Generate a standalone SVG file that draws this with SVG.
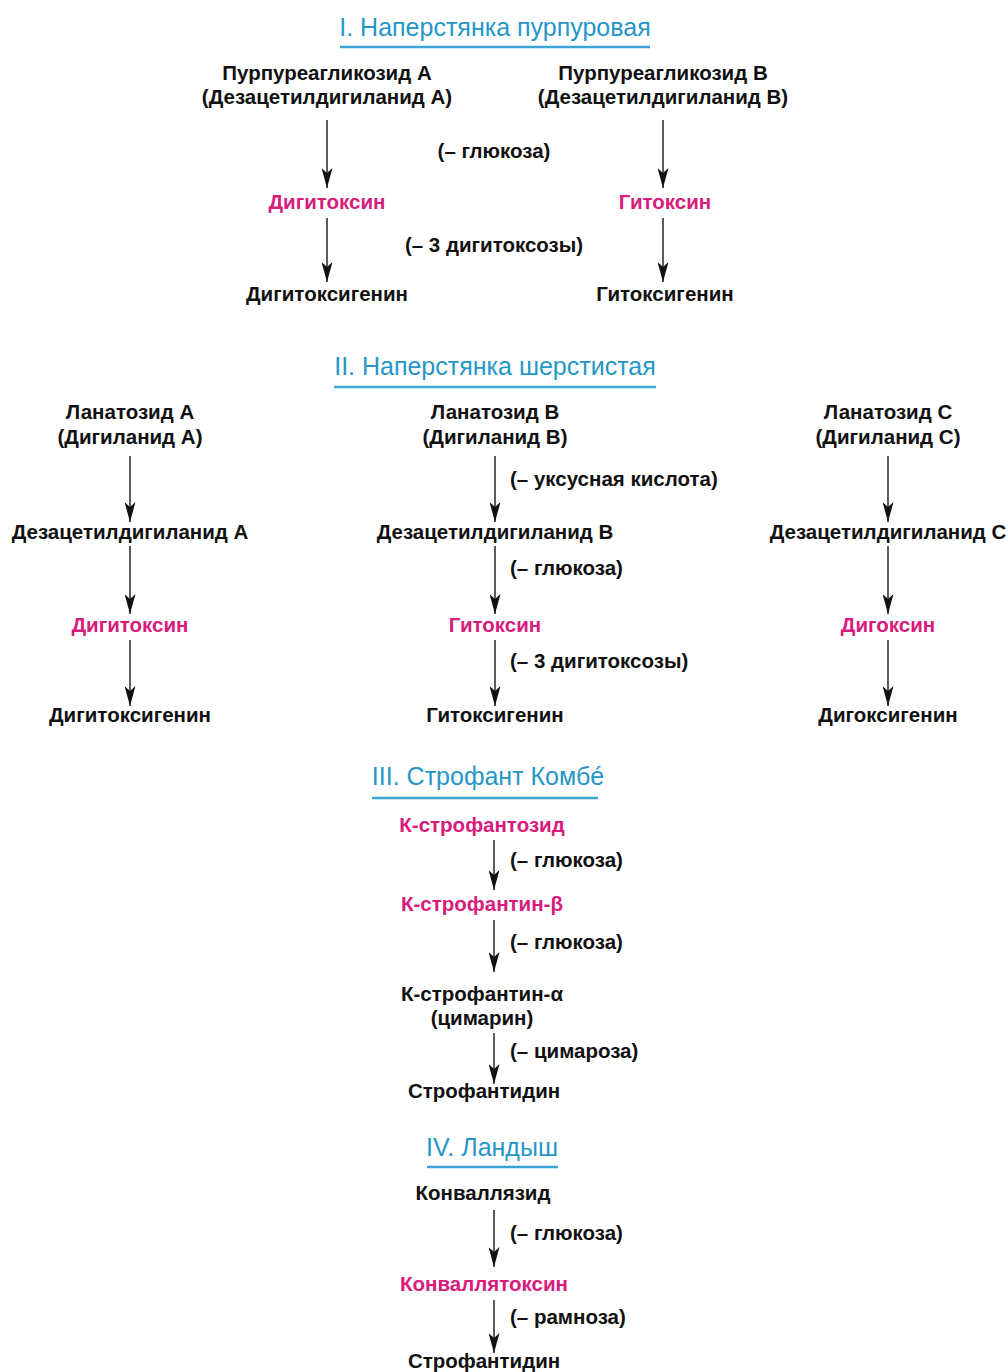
<svg xmlns="http://www.w3.org/2000/svg" width="1008" height="1372" viewBox="0 0 1008 1372">
<defs>
<style>
text{font-family:"Liberation Sans","DejaVu Sans",sans-serif;font-size:20.5px;fill:#111;}
.n{text-anchor:middle;font-weight:bold;}
.m{text-anchor:middle;font-weight:bold;fill:#d81b7c;}
.l{font-weight:bold;}
.lc{text-anchor:middle;font-weight:bold;}
.t{text-anchor:middle;font-size:25px;fill:#2596c8;}
.u{stroke:#3aa6d4;stroke-width:2.5;}
.a{stroke:#333;stroke-width:1.6;fill:none;marker-end:url(#ah);}
</style>
<marker id="ah" viewBox="0 0 20 11" refX="20" refY="5.5" markerWidth="20" markerHeight="11" markerUnits="userSpaceOnUse" orient="auto">
<path d="M0,0 L20,5.5 L0,11 L5,5.5 z" fill="#111"/>
</marker>
</defs>
<rect width="1008" height="1372" fill="#fff"/>

<g id="connectors">
<line class="a" x1="327" y1="120" x2="327" y2="188"/>
<line class="a" x1="663" y1="120" x2="663" y2="188"/>
<line class="a" x1="327" y1="218" x2="327" y2="282"/>
<line class="a" x1="663" y1="218" x2="663" y2="282"/>
<line class="a" x1="130" y1="456" x2="130" y2="522"/>
<line class="a" x1="495" y1="456" x2="495" y2="522"/>
<line class="a" x1="888" y1="456" x2="888" y2="522"/>
<line class="a" x1="130" y1="546" x2="130" y2="614"/>
<line class="a" x1="495" y1="546" x2="495" y2="614"/>
<line class="a" x1="888" y1="546" x2="888" y2="614"/>
<line class="a" x1="130" y1="640" x2="130" y2="706"/>
<line class="a" x1="495" y1="640" x2="495" y2="706"/>
<line class="a" x1="888" y1="640" x2="888" y2="706"/>
<line class="a" x1="494" y1="840" x2="494" y2="890"/>
<line class="a" x1="494" y1="920" x2="494" y2="972"/>
<line class="a" x1="494" y1="1033" x2="494" y2="1084"/>
<line class="a" x1="494" y1="1210" x2="494" y2="1267"/>
<line class="a" x1="494" y1="1300" x2="494" y2="1353"/>
</g>

<g id="title1"><text class="t" x="495" y="36">I. Наперстянка пурпуровая</text><line class="u" x1="340" y1="47" x2="650" y2="47"/></g>
<g id="purpA"><text class="n" x="327" y="80">Пурпуреагликозид А</text><text class="n" x="327" y="104">(Дезацетилдигиланид А)</text></g>
<g id="purpB"><text class="n" x="663" y="80">Пурпуреагликозид В</text><text class="n" x="663" y="104">(Дезацетилдигиланид В)</text></g>
<g id="lbl1"><text class="lc" x="494" y="158">(– глюкоза)</text></g>
<g id="digitoxin1"><text class="m" x="327" y="209">Дигитоксин</text></g>
<g id="gitoxin1"><text class="m" x="665" y="209">Гитоксин</text></g>
<g id="lbl2"><text class="lc" x="494" y="252">(– 3 дигитоксозы)</text></g>
<g id="digitoxigenin1"><text class="n" x="327" y="301">Дигитоксигенин</text></g>
<g id="gitoxigenin1"><text class="n" x="665" y="301">Гитоксигенин</text></g>

<g id="title2"><text class="t" x="495" y="375">II. Наперстянка шерстистая</text><line class="u" x1="334" y1="387" x2="656" y2="387"/></g>
<g id="lanA"><text class="n" x="130" y="419">Ланатозид А</text><text class="n" x="130" y="444">(Дигиланид А)</text></g>
<g id="lanB"><text class="n" x="495" y="419">Ланатозид В</text><text class="n" x="495" y="444">(Дигиланид В)</text></g>
<g id="lanC"><text class="n" x="888" y="419">Ланатозид С</text><text class="n" x="888" y="444">(Дигиланид С)</text></g>
<g id="lbl3"><text class="l" x="510" y="486">(– уксусная кислота)</text></g>
<g id="desA"><text class="n" x="130" y="539">Дезацетилдигиланид А</text></g>
<g id="desB"><text class="n" x="495" y="539">Дезацетилдигиланид В</text></g>
<g id="desC"><text class="n" x="888" y="539">Дезацетилдигиланид С</text></g>
<g id="lbl4"><text class="l" x="510" y="575">(– глюкоза)</text></g>
<g id="digitoxin2"><text class="m" x="130" y="632">Дигитоксин</text></g>
<g id="gitoxin2"><text class="m" x="495" y="632">Гитоксин</text></g>
<g id="digoxin"><text class="m" x="888" y="632">Дигоксин</text></g>
<g id="lbl5"><text class="l" x="510" y="668">(– 3 дигитоксозы)</text></g>
<g id="digitoxigenin2"><text class="n" x="130" y="722">Дигитоксигенин</text></g>
<g id="gitoxigenin2"><text class="n" x="495" y="722">Гитоксигенин</text></g>
<g id="digoxigenin"><text class="n" x="888" y="722">Дигоксигенин</text></g>

<g id="title3"><text class="t" x="488" y="785">III. Строфант Комбé</text><line class="u" x1="372" y1="798" x2="598" y2="798"/></g>
<g id="kstrophantoside"><text class="m" x="482" y="832">К-строфантозид</text></g>
<g id="lbl6"><text class="l" x="510" y="867">(– глюкоза)</text></g>
<g id="kstrophb"><text class="m" x="482" y="911">К-строфантин-β</text></g>
<g id="lbl7"><text class="l" x="510" y="949">(– глюкоза)</text></g>
<g id="kstropha"><text class="n" x="482" y="1001">К-строфантин-α</text><text class="n" x="482" y="1025">(цимарин)</text></g>
<g id="lbl8"><text class="l" x="510" y="1058">(– цимароза)</text></g>
<g id="strophanthidin1"><text class="n" x="484" y="1098">Строфантидин</text></g>

<g id="title4"><text class="t" x="492" y="1156">IV. Ландыш</text><line class="u" x1="427" y1="1167" x2="558" y2="1167"/></g>
<g id="convallaside"><text class="n" x="483" y="1200">Конваллязид</text></g>
<g id="lbl9"><text class="l" x="510" y="1240">(– глюкоза)</text></g>
<g id="convallatoxin"><text class="m" x="484" y="1291">Конваллятоксин</text></g>
<g id="lbl10"><text class="l" x="510" y="1324">(– рамноза)</text></g>
<g id="strophanthidin2"><text class="n" x="484" y="1368">Строфантидин</text></g>
</svg>
